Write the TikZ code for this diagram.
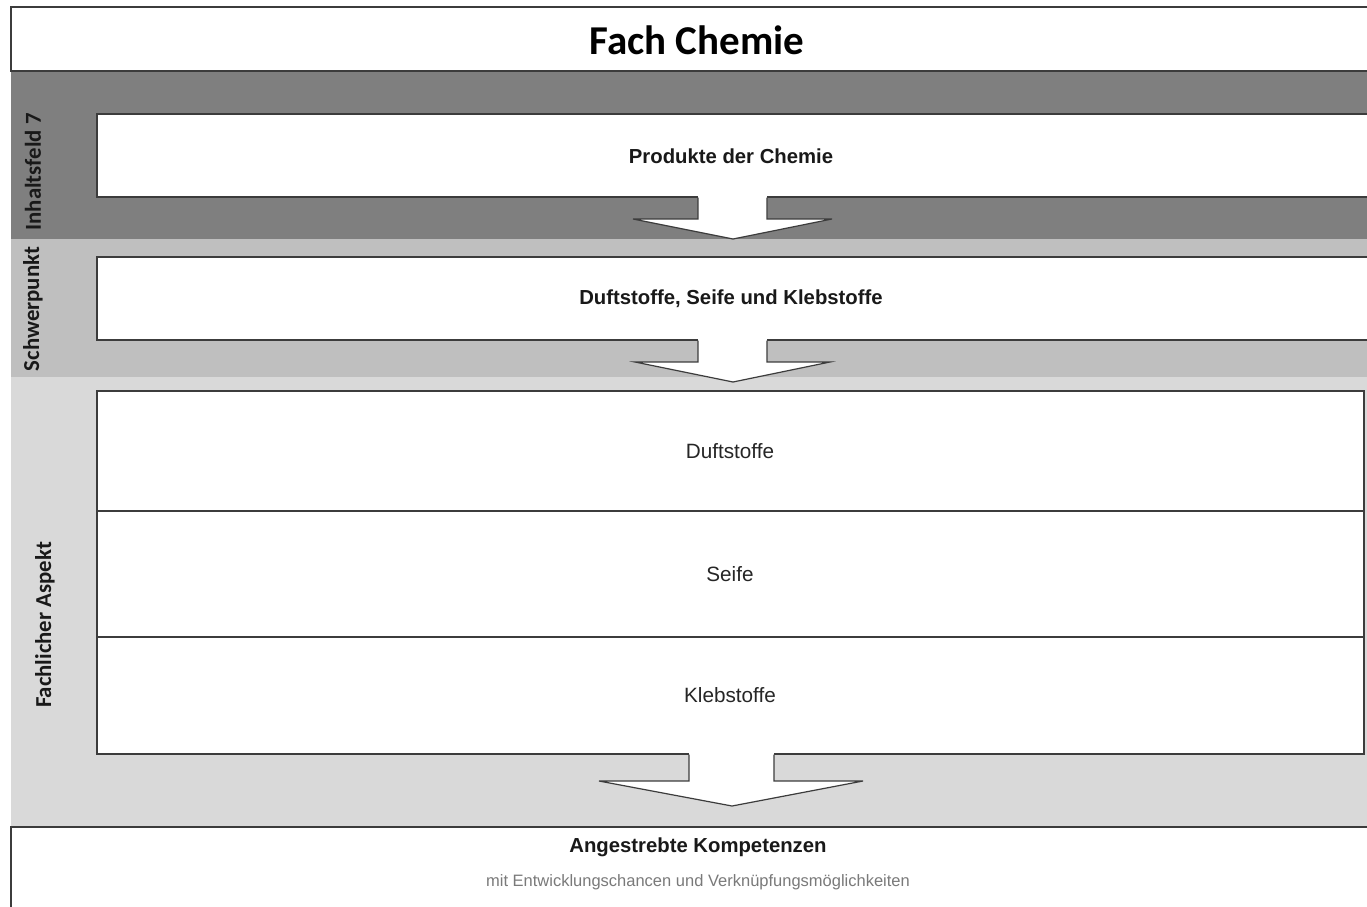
\documentclass[tikz,border=0pt]{standalone}
\usepackage{fontspec}
\setmainfont{Liberation Sans}
\newfontfamily\calfont{Carlito}
\definecolor{bandA}{HTML}{7F7F7F}
\definecolor{bandB}{HTML}{BFBFBF}
\definecolor{bandC}{HTML}{D9D9D9}
\definecolor{linec}{HTML}{3C3C3C}
\definecolor{subgray}{HTML}{7A7A7A}
\tikzset{
  box/.style={draw=linec, line width=1.3pt, fill=white, anchor=north west, inner sep=0pt, outer sep=0pt},
  sidelabel/.style={rotate=90, font=\calfont\bfseries\fontsize{22.8}{24}\selectfont, text=black!90},
  boldtxt/.style={font=\bfseries\fontsize{20.3}{22}\selectfont, text=black!90},
  normtxt/.style={font=\fontsize{20.7}{22}\selectfont, text=black!85},
  blockarrow/.style={fill=white, draw=linec, line width=1.2pt, line join=miter}
}
\begin{document}
\begin{tikzpicture}[x=1pt,y=-1pt]
\useasboundingbox (0,0) rectangle (1367,906);
\fill[white] (0,0) rectangle (1367,906);
% bands
\fill[bandA] (11,71) rectangle (1390,239);
\fill[bandB] (11,239) rectangle (1390,377);
\fill[bandC] (11,377) rectangle (1390,827);
% title
\node[box, minimum width=1372pt, minimum height=64pt] (title) at (11,7) {};
\node[font=\calfont\bfseries\fontsize{41}{43}\selectfont] (titletext) at (697,40) {Fach Chemie};
% top boxes
\node[box, minimum width=1280pt, minimum height=83pt] (prod) at (97,114) {};
\node[boldtxt] (prodtext) at (731,156) {Produkte der Chemie};
\node[box, minimum width=1280pt, minimum height=83pt] (schw) at (97,257) {};
\node[boldtxt] (schwtext) at (731,299) {Duftstoffe, Seife und Klebstoffe};
% aspect boxes
\node[box, minimum width=1267pt, minimum height=120pt] (duft) at (97,391) {};
\node[normtxt] (dufttext) at (730,451) {Duftstoffe};
\node[box, minimum width=1267pt, minimum height=126pt] (seife) at (97,511) {};
\node[normtxt] (seifetext) at (730,574) {Seife};
\node[box, minimum width=1267pt, minimum height=117pt] (kleb) at (97,637) {};
\node[normtxt] (klebtext) at (730,695) {Klebstoffe};
% bottom box
\node[box, minimum width=1380pt, minimum height=100pt] (komp) at (11,827) {};
\node[boldtxt] (kompt) at (698,847) {Angestrebte Kompetenzen};
\node[font=\fontsize{16.5}{18}\selectfont, text=subgray] (kompsub) at (698,882) {mit Entwicklungschancen und Verknüpfungsmöglichkeiten};
% side labels
\node[sidelabel] (l1) at (33,172) {Inhaltsfeld 7};
\node[sidelabel] (l2) at (33,309) {Schwerpunkt};
\node[sidelabel] (l3) at (45,625) {Fachlicher Aspekt};
% arrows
\fill[white] (698,196) rectangle (767,220);
\draw[blockarrow] (698,197.5) -- (698,219) -- (633,219) -- (733,239) -- (832,219) -- (767,219) -- (767,197.5);
\fill[white] (698,339) rectangle (767,363);
\draw[blockarrow] (698,340.5) -- (698,362) -- (635,362) -- (733,382) -- (830,362) -- (767,362) -- (767,340.5);
\fill[white] (689,753) rectangle (774,782);
\draw[blockarrow] (689,754.5) -- (689,781) -- (599,781) -- (732,806) -- (863,781) -- (774,781) -- (774,754.5);
\end{tikzpicture}
\end{document}
